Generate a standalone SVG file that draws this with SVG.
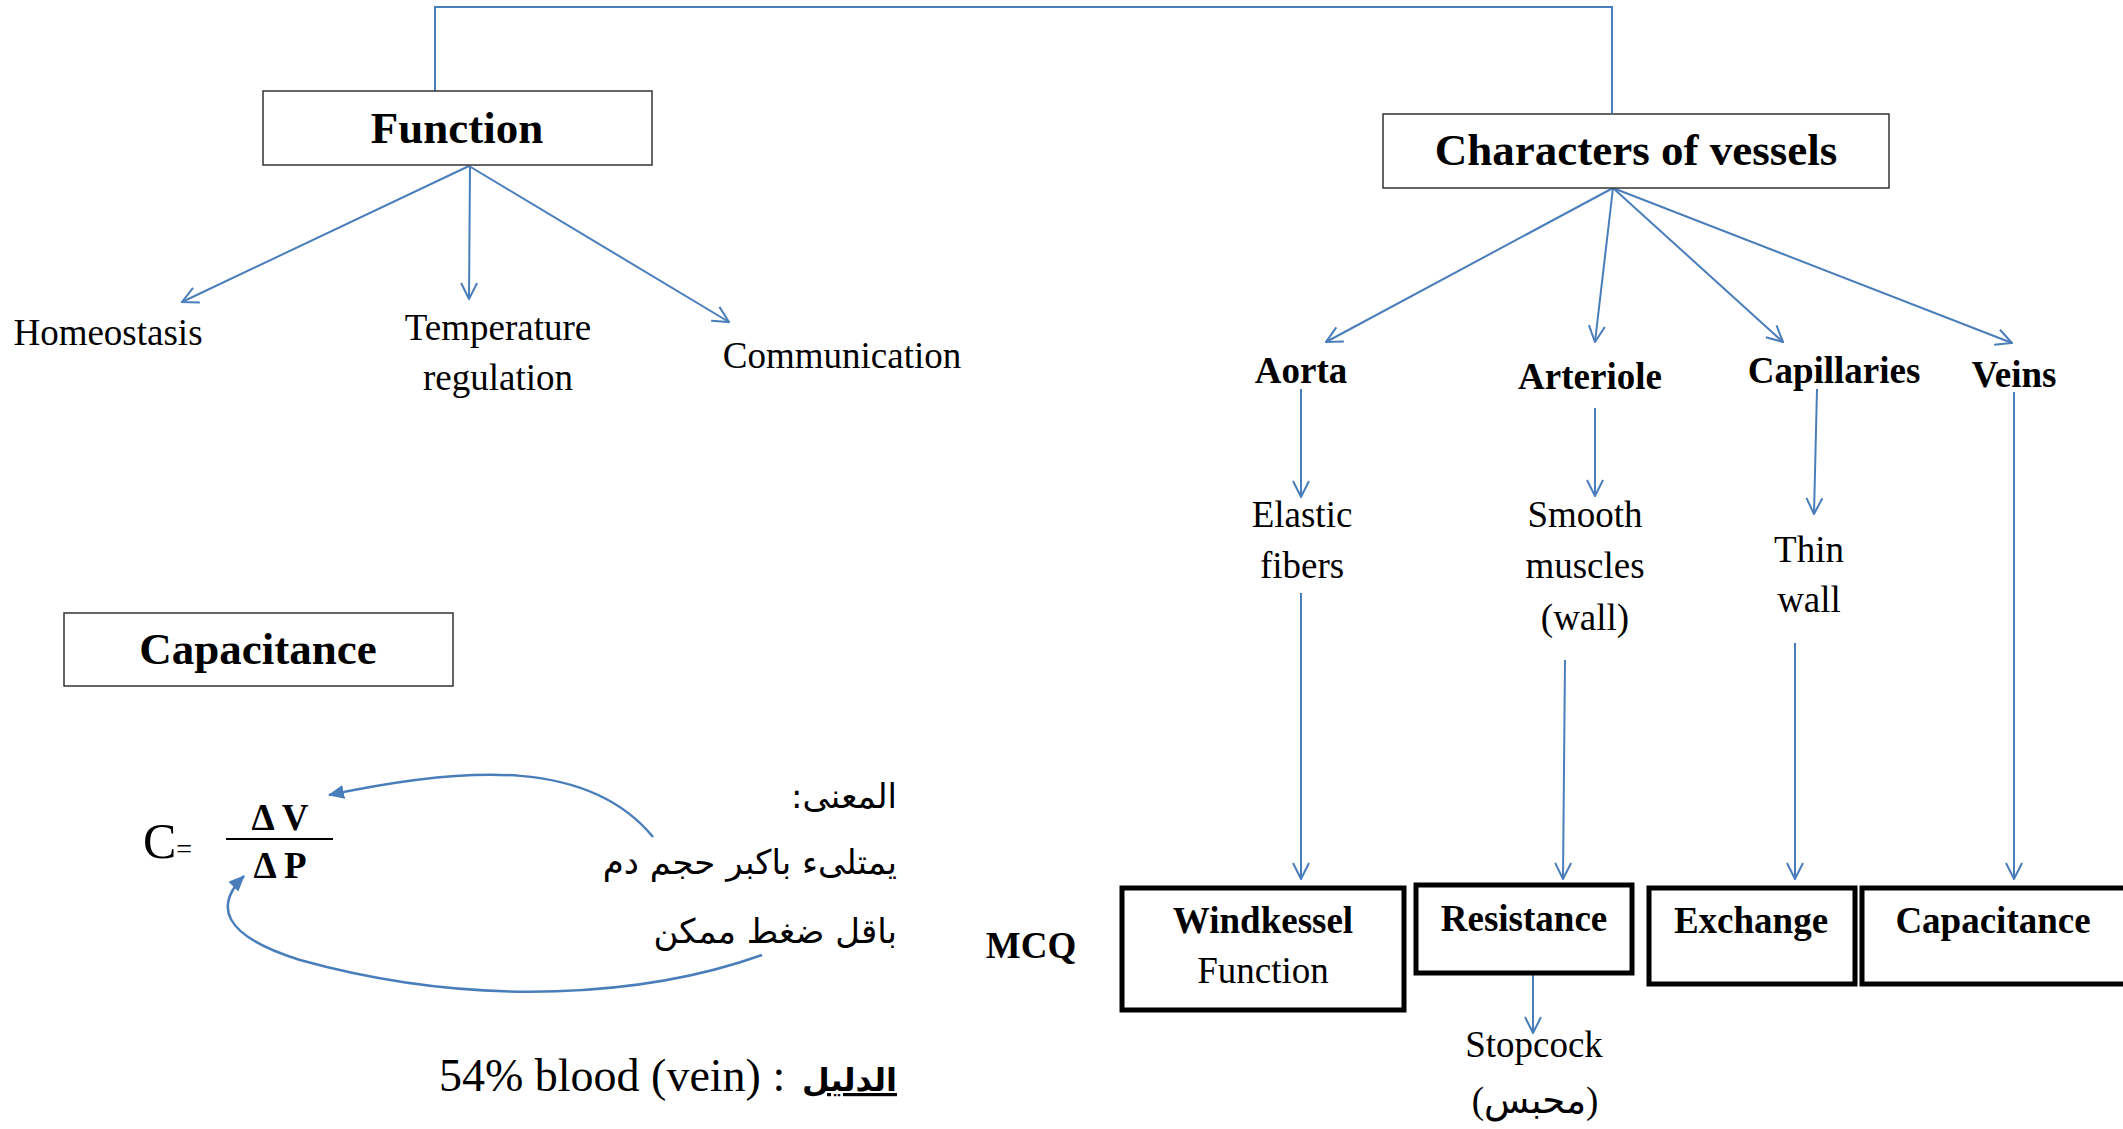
<svg xmlns="http://www.w3.org/2000/svg" width="2123" height="1129" viewBox="0 0 2123 1129">
<defs>
<style>
text{font-family:"Liberation Serif","DejaVu Sans",serif;fill:#000}
.h{font-size:45px;font-weight:bold;text-anchor:middle}
.b{font-size:37px;font-weight:bold;text-anchor:middle}
.r{font-size:37px;text-anchor:middle}
.ar{font-family:"DejaVu Sans","Liberation Serif",sans-serif;font-size:34px}
.thin{fill:#fff;stroke:#333;stroke-width:1.5}
.thick{fill:#fff;stroke:#000;stroke-width:5}
.c{fill:none;stroke:#4a7ebb;stroke-width:2}
.ca{fill:none;stroke:#4a7ebb;stroke-width:2;marker-end:url(#open)}
.cf{fill:none;stroke:#4a7ebb;stroke-width:2.5;marker-end:url(#solid)}
</style>
<marker id="open" viewBox="0 0 18 18" refX="17" refY="9" markerWidth="18" markerHeight="18" markerUnits="userSpaceOnUse" orient="auto">
<path d="M1,1 L17,9 L1,17" fill="none" stroke="#4a7ebb" stroke-width="2"/>
</marker>
<marker id="solid" viewBox="0 0 16 14" refX="15" refY="7" markerWidth="16" markerHeight="14" markerUnits="userSpaceOnUse" orient="auto">
<path d="M0,0 L16,7 L0,14 Z" fill="#4a7ebb"/>
</marker>
</defs>

<g id="connectors">
<polyline class="c" points="435,93 435,7 1612,7 1612,113"/>
<line class="ca" x1="469" y1="166" x2="182" y2="302"/>
<line class="ca" x1="470" y1="166" x2="469" y2="299"/>
<line class="ca" x1="469" y1="166" x2="729" y2="322"/>
<line class="ca" x1="1613" y1="188" x2="1326" y2="342"/>
<line class="ca" x1="1613" y1="188" x2="1595" y2="342"/>
<line class="ca" x1="1613" y1="188" x2="1783" y2="342"/>
<line class="ca" x1="1613" y1="188" x2="2012" y2="343"/>
<line class="ca" x1="1301" y1="389" x2="1301" y2="497"/>
<line class="ca" x1="1301" y1="593" x2="1301" y2="879"/>
<line class="ca" x1="1595" y1="408" x2="1595" y2="496"/>
<line class="ca" x1="1565" y1="660" x2="1563" y2="879"/>
<line class="ca" x1="1817" y1="389" x2="1814" y2="514"/>
<line class="ca" x1="1795" y1="643" x2="1795" y2="879"/>
<line class="ca" x1="2014" y1="392" x2="2014" y2="879"/>
<line class="ca" x1="1533" y1="974" x2="1533" y2="1033"/>
<path class="cf" d="M653,837 C590,760 470,765 329,795"/>
<path class="cf" d="M762,955 C650,995 480,1010 300,960 C220,935 215,905 244,876"/>
</g>

<g id="function">
<rect class="thin" x="263" y="91" width="389" height="74"/>
<text class="h" x="457" y="143">Function</text>
</g>
<g id="homeostasis"><text class="r" x="108" y="345">Homeostasis</text></g>
<g id="temperature"><text class="r" x="498" y="340">Temperature</text><text class="r" x="498" y="390">regulation</text></g>
<g id="communication"><text class="r" x="842" y="368">Communication</text></g>

<g id="characters">
<rect class="thin" x="1383" y="114" width="506" height="74"/>
<text class="h" x="1636" y="165">Characters of vessels</text>
</g>
<g id="aorta"><text class="b" x="1301" y="383">Aorta</text></g>
<g id="arteriole"><text class="b" x="1590" y="389">Arteriole</text></g>
<g id="capillaries"><text class="b" x="1834" y="383">Capillaries</text></g>
<g id="veins"><text class="b" x="2014" y="387">Veins</text></g>

<g id="elastic"><text class="r" x="1302" y="527">Elastic</text><text class="r" x="1302" y="578">fibers</text></g>
<g id="smooth"><text class="r" x="1585" y="527">Smooth</text><text class="r" x="1585" y="578">muscles</text><text class="r" x="1585" y="630">(wall)</text></g>
<g id="thin"><text class="r" x="1809" y="562">Thin</text><text class="r" x="1809" y="612">wall</text></g>

<g id="mcq"><text class="b" x="1031" y="958">MCQ</text></g>
<g id="windkessel">
<rect class="thick" x="1122" y="888" width="282" height="122"/>
<text class="b" x="1263" y="933">Windkessel</text>
<text class="r" x="1263" y="983">Function</text>
</g>
<g id="resistance">
<rect class="thick" x="1416" y="885" width="216" height="88"/>
<text class="b" x="1524" y="931">Resistance</text>
</g>
<g id="exchange">
<rect class="thick" x="1649" y="888" width="206" height="96"/>
<text class="b" x="1751" y="933">Exchange</text>
</g>
<g id="capacitance-v">
<rect class="thick" x="1862" y="888" width="264" height="96"/>
<text class="b" x="1993" y="933">Capacitance</text>
</g>
<g id="stopcock">
<text class="r" x="1534" y="1057">Stopcock</text>
<text class="r" x="1535" y="1113">(محبس)</text>
</g>

<g id="capacitance">
<rect class="thin" x="64" y="613" width="389" height="73"/>
<text class="h" x="258" y="664">Capacitance</text>
</g>
<g id="formula">
<text x="143" y="858" style="font-size:50px">C<tspan style="font-size:28px">=</tspan></text>
<text class="b" x="280" y="830">Δ V</text>
<line x1="226" y1="839" x2="333" y2="839" stroke="#000" stroke-width="2"/>
<text class="b" x="280" y="878">Δ P</text>
</g>
<g id="meaning">
<text class="ar" x="897" y="808" direction="rtl" text-anchor="start">المعنى:</text>
<text class="ar" x="897" y="874" direction="rtl" text-anchor="start">يمتلىء باكبر حجم دم</text>
<text class="ar" x="897" y="943" direction="rtl" text-anchor="start">باقل ضغط ممكن</text>
</g>
<g id="evidence">
<text x="439" y="1091" style="font-size:46px">54% blood (vein) :</text>
<text class="ar" x="897" y="1091" style="font-weight:bold;text-decoration:underline;font-size:32px" text-anchor="end">الدليل</text>
</g>
</svg>
